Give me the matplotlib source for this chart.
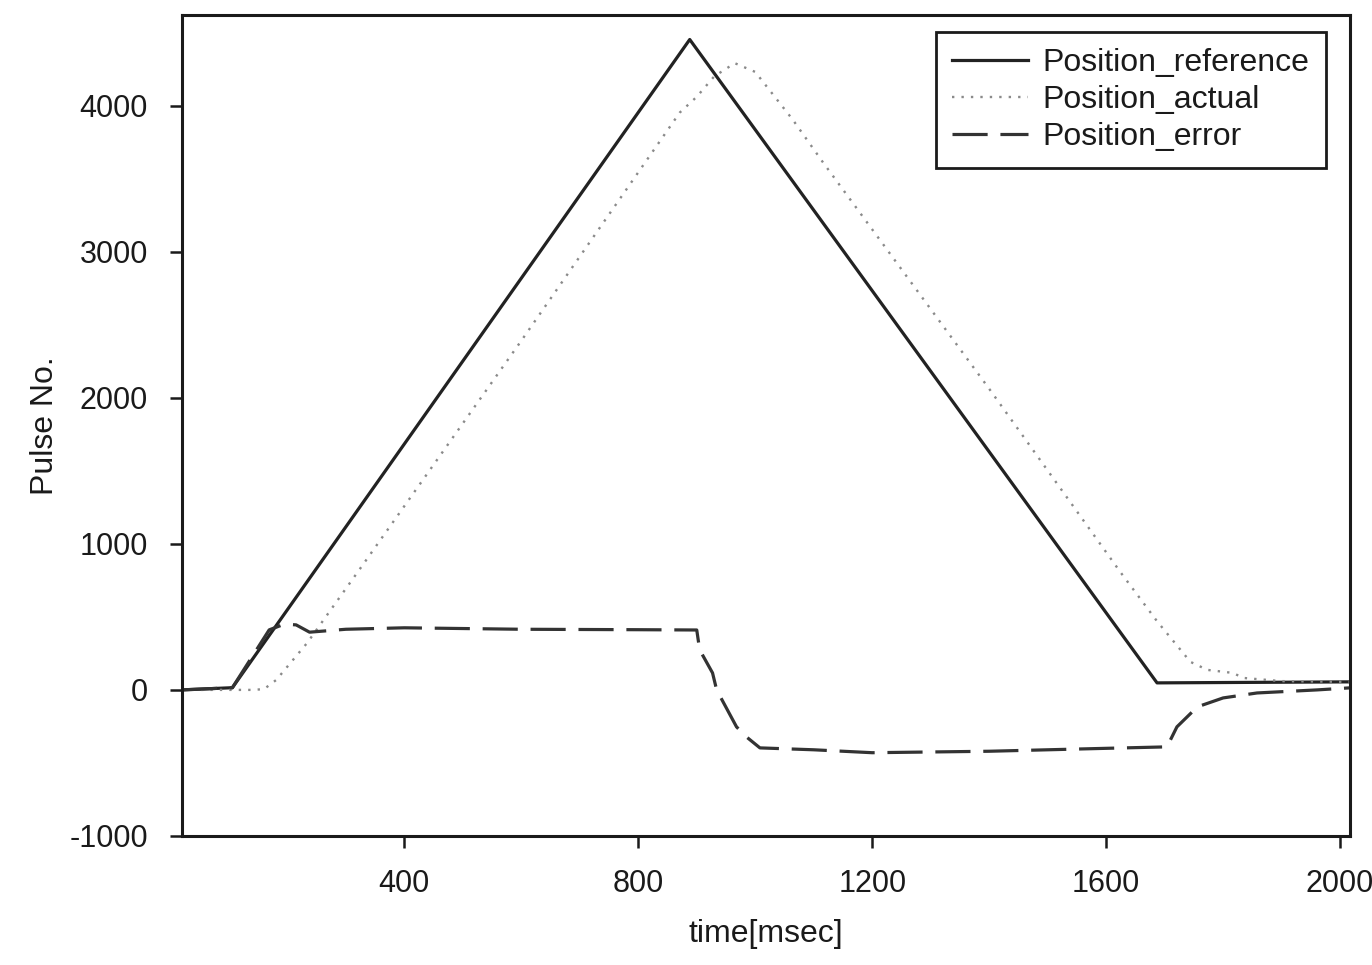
import matplotlib
matplotlib.use("Agg")
import matplotlib.pyplot as plt

plt.rcParams['font.family'] = ['Liberation Sans', 'DejaVu Sans']
plt.rcParams['axes.unicode_minus'] = False

# --- data ---
ref_t = [20, 106, 888, 1687, 2017]
ref_v = [0, 15, 4452, 48, 55]

act_t = [20, 140, 160, 181, 234, 323, 600, 871, 900, 930, 965, 1000, 1064, 1116,
         1400, 1624, 1687, 1744, 1773, 1817, 1834, 1900, 2017]
act_v = [0, 0, 5, 68, 322, 822, 2390, 3952, 4060, 4200, 4290, 4230, 3904, 3610,
         2061, 808, 470, 192, 137, 116, 82, 60, 55]

err_t = [20, 106, 169, 195, 215, 238, 300, 400, 600, 800, 900, 905, 927, 934, 968,
         985, 1008, 1100, 1200, 1400, 1600, 1704, 1721, 1756, 1800, 1858, 1961, 2017]
err_v = [0, 15, 411, 450, 445, 395, 415, 425, 415, 412, 410, 274, 116, 0, -253,
         -322, -397, -410, -430, -420, -400, -390, -253, -116, -55, -21, 0, 14]

x_ticks = [400, 800, 1200, 1600, 2000]
y_ticks = [-1000, 0, 1000, 2000, 3000, 4000]

fig = plt.figure(figsize=(13.72, 9.65), dpi=100)
ax = fig.add_axes([0.1327, 0.1337, 0.984 - 0.1327, 0.9845 - 0.1337])

ax.plot(ref_t, ref_v, color='#222222', lw=2.3, label='Position_reference')
ax.plot(act_t, act_v, color='#8a8a8a', lw=1.7, linestyle=(0, (1, 3)), label='Position_actual')
ax.plot(err_t, err_v, color='#333333', lw=2.3, linestyle=(0, (11, 4)), label='Position_error')

ax.set_xlim(20, 2017)
ax.set_ylim(-1000, 4620)
ax.set_xticks(x_ticks)
ax.set_yticks(y_ticks)
ax.tick_params(direction='out', length=8.5, width=1.8, colors='#1a1a1a',
               labelsize=22, labelcolor='#1a1a1a')
ax.tick_params(axis='y', pad=16)
ax.tick_params(axis='x', pad=15)
for s in ax.spines.values():
    s.set_linewidth(2.2)
    s.set_color('#1a1a1a')

ax.set_xlabel('time[msec]', fontsize=23, color='#1a1a1a', labelpad=15)
ax.set_ylabel('Pulse No.', fontsize=23, color='#1a1a1a', labelpad=7)

leg = ax.legend(loc='upper right', bbox_to_anchor=(0.979, 0.979), fontsize=23,
                frameon=True, fancybox=False, edgecolor='#1a1a1a', framealpha=1,
                handlelength=2.4, handletextpad=0.45, labelspacing=0.22,
                borderpad=0.5, borderaxespad=0)
leg.get_frame().set_linewidth(2.0)
for t in leg.get_texts():
    t.set_color('#1a1a1a')

fig.savefig('out.png', dpi=100)
